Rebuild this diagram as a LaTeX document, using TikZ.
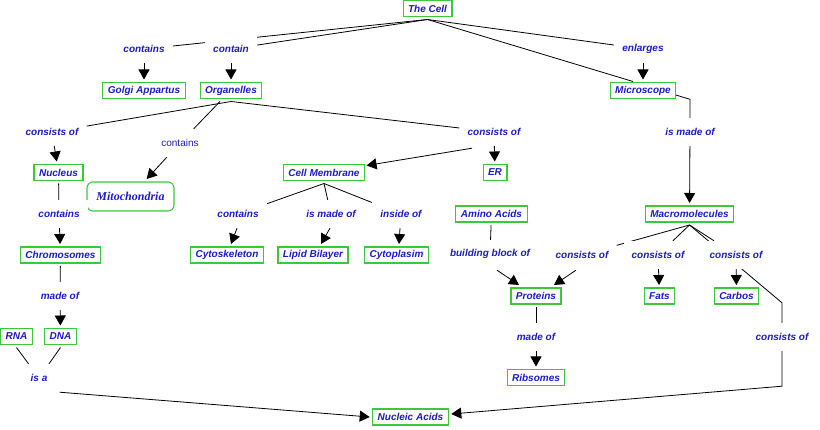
\documentclass[tikz,border=0pt]{standalone}
\usepackage{fontspec}
\setmainfont{Liberation Serif}
\setsansfont{Liberation Sans}
\usetikzlibrary{arrows.meta,calc,backgrounds}
\definecolor{cblue}{RGB}{28,28,200}
\definecolor{cgreen}{RGB}{60,200,60}
\begin{document}
\begin{tikzpicture}[x=1pt,y=-1pt,
  cfont/.style={font=\sffamily\bfseries\itshape\fontsize{10}{12}\selectfont},
  cbox/.style={cfont,draw=cgreen,line width=1.1pt,fill=white,text=cblue,inner xsep=5pt,inner ysep=0pt,minimum height=16pt,outer sep=3pt},
  lbl/.style={cfont,fill=white,text=cblue,inner xsep=8pt,inner ysep=0pt,minimum height=28pt},
  con/.style={line width=0.8pt,black},
  arr/.style={con,-{Triangle[width=11pt,length=10pt]}}]
\useasboundingbox (0,0) rectangle (820,430);

% concepts
\node[cbox] (cell) at (427.5,8.5) {The Cell};
\node[cbox] (golgi) at (144,90.5) {Golgi Appartus};
\node[cbox] (org) at (231,90.5) {Organelles};
\node[cbox] (mic) at (643,90.5) {Microscope};
\node[cbox] (nuc) at (58.5,172.5) {Nucleus};
\node[cbox,rounded corners=6pt,font=\rmfamily\bfseries\itshape\fontsize{12}{14}\selectfont,minimum width=87pt,minimum height=29pt] (mito) at (130.5,196.5) {Mitochondria};
\node[cbox] (cm) at (324,172.5) {Cell Membrane};
\node[cbox] (er) at (495,172.5) {ER};
\node[cbox] (amino) at (491.5,214) {Amino Acids};
\node[cbox] (macro) at (689.5,214) {Macromolecules};
\node[cbox] (chr) at (60.5,255) {Chromosomes};
\node[cbox] (cyto) at (227,255) {Cytoskeleton};
\node[cbox] (lipid) at (313,255) {Lipid Bilayer};
\node[cbox] (cytop) at (396.5,255) {Cytoplasim};
\node[cbox] (prot) at (536,296) {Proteins};
\node[cbox] (fats) at (659.5,296) {Fats};
\node[cbox] (carb) at (736.5,296) {Carbos};
\node[cbox] (rna) at (16.5,336.5) {RNA};
\node[cbox] (dna) at (60.5,336.5) {DNA};
\node[cbox] (ribs) at (536,377.5) {Ribsomes};
\node[cbox] (nucl) at (410.5,417) {Nucleic Acids};

% linking phrases
\node[lbl] (l1) at (144,49) {contains};
\node[lbl] (l2) at (231,49) {contain};
\node[lbl] (l3) at (643,49) {enlarges};
\node[lbl] (l4) at (52,132) {consists of};
\node[lbl,font=\sffamily\fontsize{10}{12}\selectfont] (l5) at (180,143) {contains};
\node[lbl] (l6) at (494,132) {consists of};
\node[lbl] (l7) at (690,132) {is made of};
\node[lbl] (l8) at (59,214) {contains};
\node[lbl] (l9) at (238,214) {contains};
\node[lbl] (l10) at (331,214) {is made of};
\node[lbl] (l11) at (401,214) {inside of};
\node[lbl] (l12) at (490,254) {building block of};
\node[lbl] (l13) at (582,255) {consists of};
\node[lbl] (l14) at (658,255) {consists of};
\node[lbl] (l15) at (736,255) {consists of};
\node[lbl] (l16) at (60,296) {made of};
\node[lbl] (l17) at (536,337) {made of};
\node[lbl] (l18) at (782,337) {consists of};
\node[lbl] (l19) at (39,378) {is a};

\begin{scope}[on background layer]
\fill[white] (0,0) rectangle (820,430);
\draw[con] (cell.south) -- (l1);
\draw[con] (cell.south) -- (l2);
\draw[con] (cell.south) -- (l3);
\draw[con] (cell.south) -- ($(mic.north)+(-10,2)$);
\draw[arr] (l1) -- (golgi);
\draw[arr] (l2) -- (org);
\draw[arr] (l3) -- (mic);
\draw[con] (org.south) -- (l4);
\draw[con] ($(org.south)+(-11,0)$) -- (l5);
\draw[con] (org.south) -- (l6);
\draw[arr] (l4) -- (nuc);
\draw[arr] (l5) -- (mito);
\draw[arr] ($(l6.south)+(-22,2)$) -- ($(cm.east)+(-1,-7)$);
\draw[arr] (l6) -- (er);
\draw[con] ($(mic.east)+(-3,4.5)$) -- ($(l7.north)+(0,-18.5)$) -- (l7.north);
\draw[arr] (l7) -- (macro);
\draw[con] (nuc) -- (l8);
\draw[arr] (l8) -- (chr);
\draw[con] (cm.south) -- (l9);
\draw[con] (cm.south) -- (l10);
\draw[con] (cm.south) -- (l11);
\draw[arr] ($(l9.south)+(-1,0)$) -- ($(cyto.north)+(4,0)$);
\draw[arr] ($(l10.south)+(-1,0)$) -- ($(lipid.north)+(8,0)$);
\draw[arr] ($(l11.south)+(-1,0)$) -- ($(cytop.north)+(2.5,0)$);
\draw[con] (chr) -- (l16);
\draw[arr] (l16) -- (dna);
\draw[con] (rna.south) -- (l19);
\draw[con] (dna.south) -- (l19);
\draw[arr] ($(l19.south east)+(4,0)$) -- (nucl.west);
\draw[con] (amino) -- (l12);
\draw[arr] ($(l12.south)+(7,2)$) -- ($(prot.north)+(-17,0)$);
\draw[con] (macro.south) -- (l13);
\draw[arr] ($(l13.south)+(-6,1)$) -- ($(prot.north)+(18,0)$);
\draw[con] (macro.south) -- (l14);
\draw[arr] (l14) -- (fats);
\draw[con] (macro.south) -- (l15);
\draw[arr] (l15) -- (carb);
\draw[con] (macro.south) -- ($(l18.north)+(0,-20)$) -- (l18.north);
\draw[arr] (l18.south) -- ($(l18.south)+(0,35)$) -- ($(nucl.east)+(0,-3)$);
\draw[con] (prot) -- (l17);
\draw[arr] (l17) -- (ribs);
\end{scope}
\end{tikzpicture}
\end{document}
